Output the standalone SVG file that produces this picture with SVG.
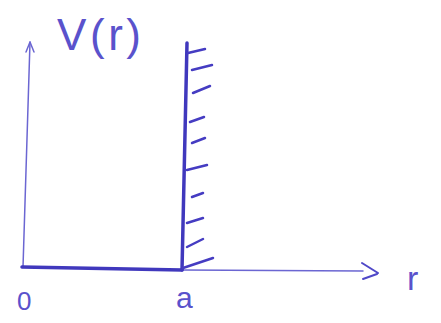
<svg xmlns="http://www.w3.org/2000/svg" width="441" height="323" viewBox="0 0 441 323">
<style>
.ink{fill:none;stroke:#4f48c8;stroke-linecap:round;stroke-linejoin:round}
.thin{stroke-width:1.5;stroke:#6b66d2}
.thick{stroke-width:3.5;stroke:#4038bd}
.hatch{stroke-width:2.5;stroke:#453cc2}
.lbl{font-family:"Liberation Sans","DejaVu Sans",sans-serif;fill:#5a52cc;font-weight:normal}
</style>
<rect width="441" height="323" fill="#ffffff"/>
<g id="connectors">
<path id="v-axis" class="ink thin" d="M30,42 L23,267"/>
<path id="v-arrowhead" class="ink thin" d="M26,52 L30,42 L34,52"/>
<path id="r-axis" class="ink thin" d="M182,270 L363,271"/>
<path id="r-arrowhead" class="ink" stroke-width="2" d="M362,263 L378,273 M363,279 L377,274"/>
</g>
<g id="well-floor">
<path class="ink thick" d="M22,267 L182,270"/>
</g>
<g id="wall">
<path class="ink thick" d="M187,43 L182,270"/>
<path class="ink hatch" d="M188,53 L205,49 M192,70 L212,65 M193,93 L210,86 M190,122 L204,117 M192,143 L205,138 M187,170 L207,165 M192,197 L203,193 M187,223 L203,218 M187,247 L203,239 M183,268 L213,258"/>
</g>
<g id="label-V">
<text class="lbl" x="57" y="50" font-size="44" textLength="84" lengthAdjust="spacing">V(r)</text>
</g>
<g id="label-0">
<text class="lbl" x="17" y="310" font-size="26">0</text>
</g>
<g id="label-a">
<text class="lbl" x="176" y="308" font-size="30">a</text>
</g>
<g id="label-r">
<text class="lbl" x="407" y="290" font-size="34">r</text>
</g>
</svg>
